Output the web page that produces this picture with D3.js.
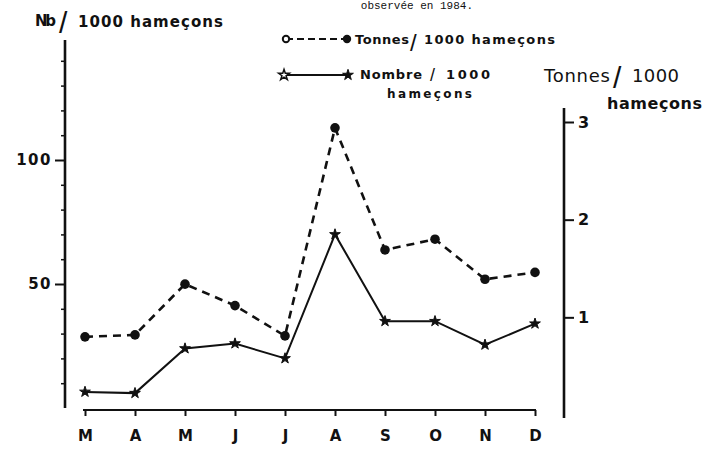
<!DOCTYPE html>
<html><head><meta charset="utf-8">
<script src="https://cdn.jsdelivr.net/npm/d3@7/dist/d3.min.js"></script>
<style>
body{margin:0;background:#fff;}
svg{display:block;}
text{fill:#111;}
</style></head>
<body><svg id="c" width="724" height="453"></svg>
<script>
// ---- data ----
const months = ["M","A","M","J","J","A","S","O","N","D"];
const nombre = [6.5, 6, 24, 26, 20, 70, 35, 35, 25.5, 34];          // Nb / 1000 hameçons (left axis)
const tonnes = [0.80, 0.82, 1.34, 1.12, 0.81, 2.94, 1.69, 1.80, 1.39, 1.46]; // Tonnes / 1000 hameçons (right axis)
const leftMajor = [50, 100];
const leftMinor = [10,20,30,40,60,70,80,90,110,120,130,140];
const rightTicks = [1, 2, 3];

const svg = d3.select("#c");
const ink = "#111";

const x = d3.scalePoint().domain(d3.range(months.length)).range([85, 535]);
const yL = d3.scaleLinear().domain([0, 100]).range([408, 160]);
const yR = d3.scaleLinear().domain([0, 3]).range([415, 122]);

// caption at top
svg.append("text").attr("x", 473).attr("y", 9).attr("text-anchor", "end")
  .attr("font-family", "Liberation Mono, monospace").attr("font-size", 11)
  .text("observée en 1984.");

// ---- left axis ----
const gL = svg.append("g").attr("transform", "translate(65,0)");
gL.append("line").attr("x1", 0).attr("x2", 0).attr("y1", 40).attr("y2", 408)
  .attr("stroke", ink).attr("stroke-width", 2.6);
gL.append("g").call(d3.axisLeft(yL).tickValues(leftMinor).tickSize(4).tickFormat(""))
  .call(g => g.select(".domain").remove())
  .selectAll("line").attr("stroke", ink).attr("stroke-width", 1.5);
gL.append("g").call(d3.axisLeft(yL).tickValues(leftMajor).tickSize(10).tickPadding(3))
  .call(g => g.select(".domain").remove())
  .call(g => g.selectAll("line").attr("stroke", ink).attr("stroke-width", 2))
  .call(g => g.selectAll("text").attr("font-family", "DejaVu Sans, sans-serif")
    .attr("font-weight", "bold").attr("font-size", 15).attr("fill", ink)
    .attr("letter-spacing", 1.5));

// ---- right axis ----
const gR = svg.append("g").attr("transform", "translate(564,0)");
gR.append("line").attr("x1", 0).attr("x2", 0).attr("y1", 108).attr("y2", 418)
  .attr("stroke", ink).attr("stroke-width", 2.6);
gR.append("g").call(d3.axisRight(yR).tickValues(rightTicks).tickSize(10).tickPadding(4).tickFormat(d3.format("d")))
  .call(g => g.select(".domain").remove())
  .call(g => g.selectAll("line").attr("stroke", ink).attr("stroke-width", 2))
  .call(g => g.selectAll("text").attr("font-family", "DejaVu Sans, sans-serif")
    .attr("font-weight", "bold").attr("font-size", 16).attr("fill", ink));

// ---- x axis ----
const gX = svg.append("g").attr("transform", "translate(0,410)");
gX.append("line").attr("x1", 83).attr("x2", 536).attr("y1", 0).attr("y2", 0)
  .attr("stroke", ink).attr("stroke-width", 2.2);
gX.append("g").call(d3.axisBottom(x).tickSize(6).tickPadding(14).tickFormat(i => months[i]))
  .call(g => g.select(".domain").remove())
  .call(g => g.selectAll("line").attr("stroke", ink).attr("stroke-width", 2))
  .call(g => g.selectAll("text").attr("font-family", "DejaVu Sans, sans-serif")
    .attr("font-weight", "bold").attr("font-size", 15).attr("fill", ink));

// ---- lines ----
const lineT = d3.line().x((d, i) => x(i)).y(d => yR(d));
const lineN = d3.line().x((d, i) => x(i)).y(d => yL(d));

svg.append("path").datum(tonnes).attr("d", lineT).attr("fill", "none")
  .attr("stroke", ink).attr("stroke-width", 2.6).attr("stroke-dasharray", "8,6");
svg.append("path").datum(nombre).attr("d", lineN).attr("fill", "none")
  .attr("stroke", ink).attr("stroke-width", 2);

svg.append("g").selectAll("circle").data(tonnes).join("circle")
  .attr("cx", (d, i) => x(i)).attr("cy", d => yR(d)).attr("r", 4.8)
  .attr("fill", ink);
const star = d3.symbol().type(d3.symbolStar).size(36);
svg.append("g").selectAll("path").data(nombre).join("path")
  .attr("transform", (d, i) => `translate(${x(i)},${yL(d)})`)
  .attr("d", star).attr("fill", ink).attr("stroke", ink).attr("stroke-width", 1);

// ---- legend ----
const lg = svg.append("g");
lg.append("line").attr("x1", 286).attr("x2", 347).attr("y1", 39).attr("y2", 39)
  .attr("stroke", ink).attr("stroke-width", 2).attr("stroke-dasharray", "7,4");
lg.append("circle").attr("cx", 286).attr("cy", 39).attr("r", 3.2).attr("fill", "#fff").attr("stroke", ink).attr("stroke-width", 2);
lg.append("circle").attr("cx", 347).attr("cy", 39).attr("r", 4.2).attr("fill", ink);
lg.append("line").attr("x1", 284).attr("x2", 348).attr("y1", 75).attr("y2", 75)
  .attr("stroke", ink).attr("stroke-width", 1.8);
lg.append("path").attr("transform", "translate(284,75)").attr("d", star).attr("fill", "#fff").attr("stroke", ink).attr("stroke-width", 1.5);
lg.append("path").attr("transform", "translate(348,75)").attr("d", star).attr("fill", ink).attr("stroke", ink).attr("stroke-width", 1);

function txt(xp, yp, s, size, weight, len, fam) {
  const t = svg.append("text").attr("x", xp).attr("y", yp)
    .attr("font-family", fam || "DejaVu Sans, sans-serif")
    .attr("font-size", size).attr("font-weight", weight).text(s);
  if (len) t.attr("textLength", len).attr("lengthAdjust", "spacing");
  return t;
}
// legend texts
txt(355, 44, "Tonnes", 13, "bold", 54);
txt(410, 51, "/", 24, "normal", null, "Liberation Sans, sans-serif");
txt(424, 44, "1000 hameçons", 13, "bold", 131);
txt(360, 79, "Nombre", 13, "bold", 62);
txt(430, 81, "/", 18, "normal", null, "Liberation Sans, sans-serif");
txt(446, 79, "1000", 13, "bold", 44);
txt(387, 98, "hameçons", 12, "bold", 85);

// left axis title
txt(35, 26, "Nb", 15, "bold", 21);
txt(59, 33, "/", 30, "normal", null, "Liberation Sans, sans-serif");
txt(78, 27, "1000 hameçons", 15, "bold", 145);

// right axis title
txt(544, 82, "Tonnes", 18, "normal", 66);
txt(613, 88, "/", 30, "normal", null, "Liberation Sans, sans-serif");
txt(632, 82, "1000", 18, "normal", 47);
txt(607, 109, "hameçons", 16, "bold", 95);
</script></body></html>
